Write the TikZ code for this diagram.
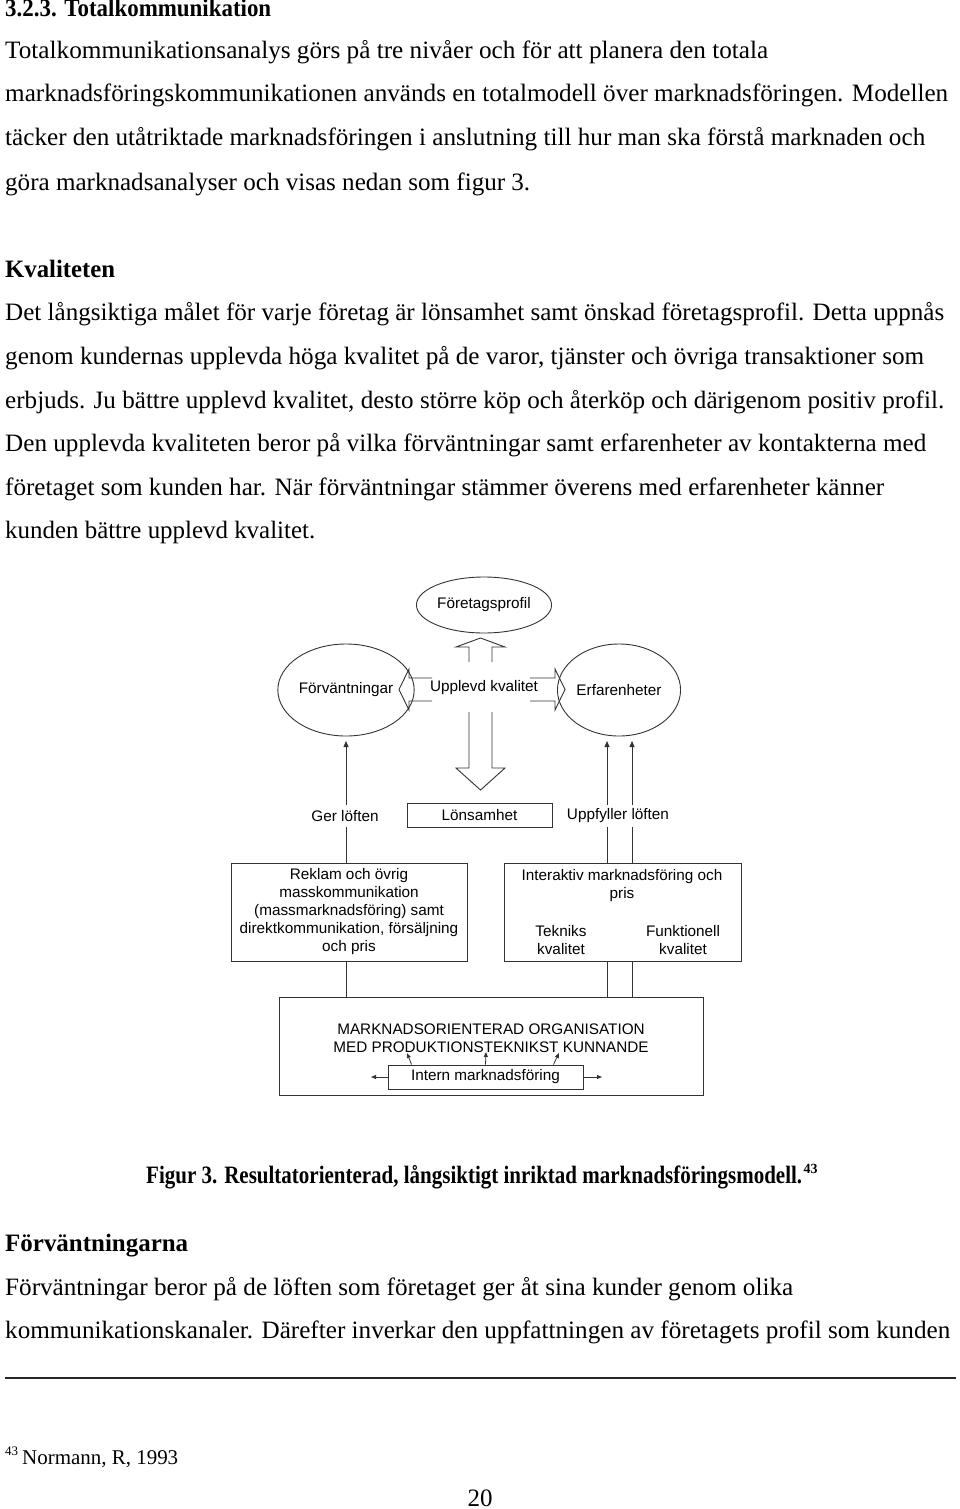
\documentclass[tikz,border=0pt]{standalone}
\usepackage{fontspec}
\usepackage{graphicx}
\setmainfont{Liberation Serif}
\newfontfamily\diagfont{Liberation Sans}
\usetikzlibrary{shapes.geometric,arrows.meta,calc}
\newcommand\fitw[2]{\resizebox{#1pt}{\height}{#2}}
\tikzset{
  body/.style={anchor=base west, inner sep=0pt, font=\fontsize{25}{30}\selectfont},
  bodyb/.style={anchor=base west, inner sep=0pt, font=\fontsize{25}{30}\selectfont\bfseries},
  dtext/.style={font=\diagfont\fontsize{15.3}{18}\selectfont, inner sep=1pt, align=center, text=black},
  dbox/.style={draw=black!80, line width=0.9pt, rectangle, inner sep=0pt, dtext},
  dell/.style={draw=black!80, line width=0.9pt, ellipse, inner sep=0pt, dtext},
  blockarrow/.style={draw=black!80, line width=0.9pt, line join=miter},
  thinline/.style={draw=black!80, line width=0.8pt},
  thinarrow/.style={draw=black!80, line width=0.8pt, -{Triangle[length=6pt,width=5pt]}},
  smallarrow/.style={draw=black!80, line width=0.8pt, -{Triangle[length=5pt,width=4pt]}},
}
\begin{document}
\begin{tikzpicture}[x=1pt,y=-1pt]
\useasboundingbox[fill=white] (0,0) rectangle (960,1509);

% ---------- body text ----------
\node[bodyb] (h1) at (5,17) {\fitw{266}{3.2.3. Totalkommunikation}};
\node[body] (l2) at (5,59) {\fitw{763}{Totalkommunikationsanalys görs på tre nivåer och för att planera den totala}};
\node[body] (l3) at (5,102) {\fitw{943}{marknadsföringskommunikationen används en totalmodell över marknadsföringen. Modellen}};
\node[body] (l4) at (5,146) {\fitw{920}{täcker den utåtriktade marknadsföringen i anslutning till hur man ska förstå marknaden och}};
\node[body] (l5) at (5,190) {\fitw{525}{göra marknadsanalyser och visas nedan som figur 3.}};

\node[bodyb] (h2) at (5,277) {\fitw{110}{Kvaliteten}};
\node[body] (k1) at (5,320) {\fitw{939}{Det långsiktiga målet för varje företag är lönsamhet samt önskad företagsprofil. Detta uppnås}};
\node[body] (k2) at (5,364) {\fitw{919}{genom kundernas upplevda höga kvalitet på de varor, tjänster och övriga transaktioner som}};
\node[body] (k3) at (5,408) {\fitw{939}{erbjuds. Ju bättre upplevd kvalitet, desto större köp och återköp och därigenom positiv profil.}};
\node[body] (k4) at (5,451) {\fitw{921}{Den upplevda kvaliteten beror på vilka förväntningar samt erfarenheter av kontakterna med}};
\node[body] (k5) at (5,495) {\fitw{879}{företaget som kunden har. När förväntningar stämmer överens med erfarenheter känner}};
\node[body] (k6) at (5,538) {\fitw{310}{kunden bättre upplevd kvalitet.}};

% ---------- diagram ----------
\node[dell, minimum width=118pt, minimum height=56pt] (profil) at (484,605) {Företagsprofil};
\node[dell, minimum width=112pt, minimum height=92pt] (forv) at (346,690) {Förväntningar};
\node[dell, minimum width=112pt, minimum height=92pt] (erf) at (619,690) {Erfarenheter};
\node[dtext] (upp) at (484,688) {Upplevd kvalitet};

% block arrows
\draw[blockarrow] (469,662) -- (469,647) -- (456,647) -- (480.5,638) -- (505,647) -- (492,647) -- (492,662);
\draw[blockarrow] (469,712) -- (469,768) -- (456,768) -- (480.5,790) -- (505,768) -- (492,768) -- (492,712);
\draw[blockarrow] (432,678) -- (409,678) -- (409,669) -- (399,689.5) -- (409,710) -- (409,701) -- (432,701);
\draw[blockarrow] (530,678) -- (555,678) -- (555,669) -- (565,689.5) -- (555,710) -- (555,701) -- (530,701);

\node[dbox, minimum width=145pt, minimum height=24pt] (lons) at (479.5,815) {Lönsamhet};
\node[dtext, minimum height=22pt] (ger) at (345,816) {Ger löften};
\node[dtext, minimum height=22pt] (uppf) at (618,816) {Uppfyller löften};

\node[dbox, minimum width=236pt, minimum height=98pt] (reklam) at (349,912)
  {Reklam och övrig\\masskommunikation\\(massmarknadsföring) samt\\direktkommunikation, försäljning\\och pris};
\node[dbox, minimum width=237pt, minimum height=98pt] (inter) at (622.5,912) {};
\node[dtext] (intert) at (622,886) {Interaktiv marknadsföring och\\pris};
\node[dtext] (tek) at (561,940) {Tekniks\\kvalitet};
\node[dtext] (fun) at (683,940) {Funktionell\\kvalitet};

\node[dbox, minimum width=424pt, minimum height=98pt] (big) at (491,1046) {};
\node[dtext, inner sep=0pt] (org) at (491,1038) {MARKNADSORIENTERAD ORGANISATION\\MED PRODUKTIONSTEKNIKST KUNNANDE};
\node[dbox, minimum width=195pt, minimum height=24pt] (intern) at (485.5,1077) {Intern marknadsföring};

% connector coordinates
\coordinate (xl) at (346,0);
\coordinate (xr1) at (607,0);
\coordinate (xr2) at (632,0);
\coordinate (fa) at (346,741);
\coordinate (ea1) at (607,741);
\coordinate (ea2) at (632,741);

\draw[thinline] (reklam.north -| xl) -- (ger.south -| xl);
\draw[thinarrow] (ger.north -| xl) -- (fa);
\draw[thinline] (inter.north -| xr1) -- (uppf.south -| xr1);
\draw[thinline] (inter.north -| xr2) -- (uppf.south -| xr2);
\draw[thinarrow] (uppf.north -| xr1) -- (ea1);
\draw[thinarrow] (uppf.north -| xr2) -- (ea2);
\draw[thinline] (reklam.south -| xl) -- (big.north -| xl);
\draw[thinline] (inter.south -| xr1) -- (big.north -| xr1);
\draw[thinline] (inter.south -| xr2) -- (big.north -| xr2);

% small arrows in big box
\coordinate (ia1) at (407,1053);
\coordinate (ia2) at (486,1052);
\coordinate (ia3) at (559,1053);
\coordinate (ial) at (371,1077);
\coordinate (iar) at (602,1077);
\draw[smallarrow] ($(intern.north west)+(24,0)$) -- (ia1);
\draw[smallarrow] (intern.north) -- (ia2);
\draw[smallarrow] ($(intern.north east)+(-30,0)$) -- (ia3);
\draw[smallarrow] (intern.west) -- (ial);
\draw[smallarrow] (intern.east) -- (iar);

% ---------- caption and following text ----------
\node[bodyb] (cap) at (146,1183) {\fitw{656}{Figur 3. Resultatorienterad, långsiktigt inriktad marknadsföringsmodell.}};
\node[anchor=base west, inner sep=0pt, font=\fontsize{14}{16}\selectfont\bfseries] (cap43) at ($(cap.base east)+(1,-10)$) {43};

\node[bodyb] (h3) at (5,1251) {\fitw{183}{Förväntningarna}};
\node[body] (f1) at (5,1295) {\fitw{788}{Förväntningar beror på de löften som företaget ger åt sina kunder genom olika}};
\node[body] (f2) at (5,1338) {\fitw{945}{kommunikationskanaler. Därefter inverkar den uppfattningen av företagets profil som kunden}};

\draw[line width=2pt, black!85] (5,1378) -- (956,1378);

\node[anchor=base west, inner sep=0pt, font=\fontsize{13}{15}\selectfont] (fn43) at (5,1455) {43};
\node[anchor=base west, inner sep=0pt, font=\fontsize{21}{25}\selectfont] (fn) at (22,1464) {\fitw{156}{Normann, R, 1993}};
\node[anchor=base, inner sep=0pt, font=\fontsize{25}{30}\selectfont] (pg) at (480,1506) {20};
\end{tikzpicture}
\end{document}
